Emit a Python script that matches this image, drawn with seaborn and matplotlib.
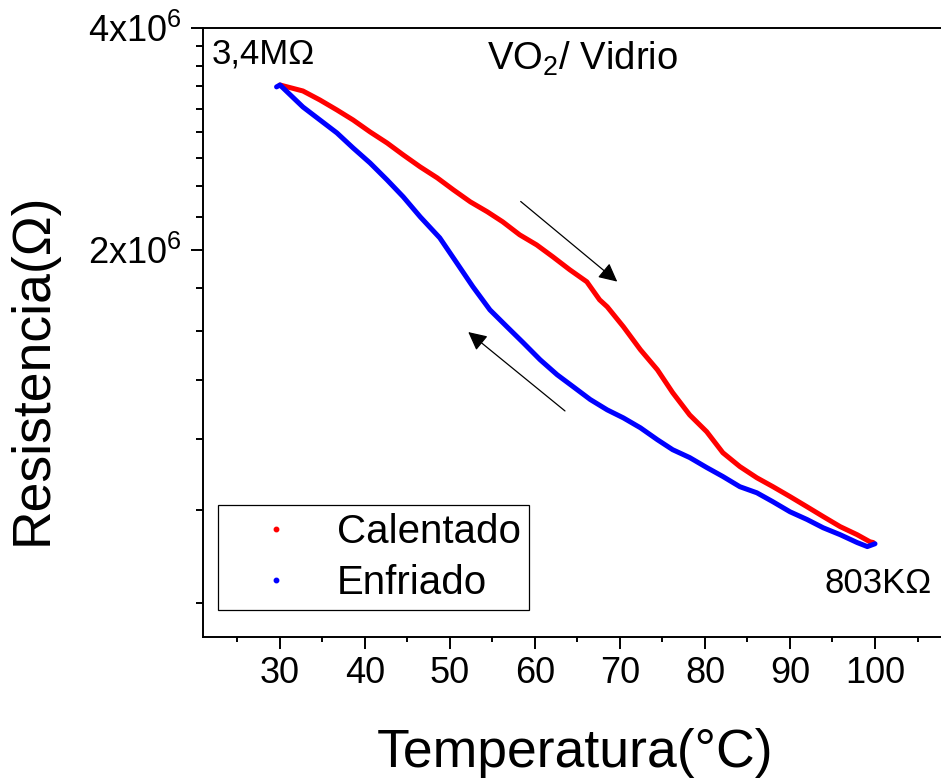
import numpy as np
import pandas as pd
import matplotlib
matplotlib.use("Agg")
import matplotlib.pyplot as plt
from matplotlib.lines import Line2D
from matplotlib.ticker import FixedLocator, FuncFormatter, NullFormatter
import seaborn as sns

# ---- data ----
temp_calentado = [30.0, 32.7, 34.7, 36.7, 38.6, 40.6, 42.6, 44.5, 46.5, 48.5, 50.4, 52.4,
                  54.4, 56.2, 58.2, 60.2, 62.1, 64.1, 66.1, 67.6, 68.5, 70.4, 72.4, 74.4,
                  76.2, 78.2, 80.2, 82.1, 84.1, 86.1, 88.0, 90.0, 92.0, 93.9, 95.9, 97.9,
                  99.4, 99.8]
res_calentado = [3.349, 3.287, 3.196, 3.098, 3.003, 2.893, 2.795, 2.693, 2.594, 2.507, 2.415,
                 2.326, 2.255, 2.186, 2.099, 2.034, 1.960, 1.882, 1.813, 1.714, 1.677, 1.576,
                 1.467, 1.378, 1.283, 1.197, 1.136, 1.064, 1.019, 0.984, 0.957, 0.928, 0.899,
                 0.872, 0.845, 0.824, 0.806, 0.804]

temp_enfriado = [100.0, 99.1, 97.9, 95.9, 93.9, 92.0, 90.0, 88.0, 86.1, 84.1, 82.1, 80.2,
                 78.2, 76.2, 74.4, 72.4, 70.4, 68.5, 66.5, 64.5, 62.6, 60.6, 58.6, 56.7,
                 54.7, 52.7, 50.8, 48.8, 46.5, 44.5, 42.6, 40.6, 38.6, 36.7, 34.7, 32.7,
                 30.0, 29.6]
res_enfriado = [0.801, 0.794, 0.804, 0.824, 0.842, 0.864, 0.885, 0.913, 0.939, 0.957, 0.988,
                1.016, 1.048, 1.074, 1.108, 1.150, 1.186, 1.216, 1.256, 1.307, 1.357, 1.422,
                1.500, 1.576, 1.661, 1.785, 1.923, 2.079, 2.220, 2.363, 2.491, 2.626, 2.752,
                2.884, 3.003, 3.127, 3.349, 3.329]

series_names = ["Calentado", "Enfriado"]
series_colors = ["#ff0000", "#0000ff"]
x_major_ticks = [30, 40, 50, 60, 70, 80, 90, 100]
y_major_ticks = [2e6, 4e6]
y_major_labels = ["2x10$^{6}$", "4x10$^{6}$"]

# ---- build table ----
df = pd.concat([
    pd.DataFrame({"T": temp_calentado, "R": np.array(res_calentado) * 1e6,
                  "Serie": series_names[0]}),
    pd.DataFrame({"T": temp_enfriado, "R": np.array(res_enfriado) * 1e6,
                  "Serie": series_names[1]}),
], ignore_index=True)

sns.set_style("ticks")
plt.rcParams["font.family"] = ["Liberation Sans", "DejaVu Sans"]
plt.rcParams["mathtext.fontset"] = "custom"
plt.rcParams["mathtext.rm"] = "Liberation Sans"
plt.rcParams["mathtext.it"] = "Liberation Sans:italic"
plt.rcParams["mathtext.bf"] = "Liberation Sans:bold"
plt.rcParams["mathtext.default"] = "regular"
for k in ["text.color", "axes.labelcolor", "xtick.color", "ytick.color", "axes.edgecolor"]:
    plt.rcParams[k] = "black"

fig = plt.figure(figsize=(9.41, 7.78), dpi=100)
ax = fig.add_axes([0.2162, 0.1806, 0.804, 0.7834])

palette = dict(zip(series_names, series_colors))
sns.lineplot(data=df, x="T", y="R", hue="Serie", palette=palette, sort=False,
             estimator=None, linewidth=3.6, legend=False, ax=ax)

ax.set_yscale("log")
ax.set_xlim(21, 110)
ax.set_ylim(5.98e5, 4e6)

# ticks
ax.xaxis.set_major_locator(FixedLocator(x_major_ticks))
ax.xaxis.set_minor_locator(FixedLocator([25, 35, 45, 55, 65, 75, 85, 95, 105]))
ax.yaxis.set_major_locator(FixedLocator(y_major_ticks))
ax.yaxis.set_major_formatter(FuncFormatter(lambda v, p: dict(zip(y_major_ticks, y_major_labels)).get(v, "")))
ax.yaxis.set_minor_locator(FixedLocator([2e6 * k / 9 for k in list(range(3, 9)) + list(range(10, 18))]))
ax.yaxis.set_minor_formatter(NullFormatter())

ax.tick_params(axis="both", which="major", direction="out", width=1.4, labelsize=26,
               colors="black")
ax.tick_params(axis="x", which="major", length=8.6, pad=4.5)
ax.tick_params(axis="y", which="major", length=8.6, pad=7)
ax.tick_params(axis="x", which="minor", length=3.8, width=1.4, colors="black")
ax.tick_params(axis="y", which="minor", length=5.0, width=1.4, colors="black")

for s in ["left", "bottom", "top"]:
    ax.spines[s].set_linewidth(1.4)
    ax.spines[s].set_color("black")
ax.spines["right"].set_visible(False)

# axis labels
ax.set_xlabel("Temperatura(°C)", fontsize=38.5, va="baseline", color="black")
ax.xaxis.set_label_coords(0.4918, -0.2125)
ax.set_ylabel("Resistencia(Ω)", fontsize=38.5, va="baseline", color="black")
ax.yaxis.set_label_coords(-0.207, 0.4405)

# annotations
fig.text(212 / 941, 1 - 64 / 778, "3,4MΩ", fontsize=25, ha="left", va="baseline", color="black")
fig.text(487 / 941, 1 - 69.3 / 778, "VO$_{2}$/ Vidrio", fontsize=27.5, ha="left", va="baseline",
         color="black")
fig.text(825 / 941, 1 - 593 / 778, "803KΩ", fontsize=25, ha="left", va="baseline", color="black")

arrow_kw = dict(arrowstyle="-|>", color="black", lw=0.9, mutation_scale=28,
                shrinkA=0, shrinkB=0)
ax.annotate("", xy=(69.68, 1.814e6), xytext=(58.32, 2.329e6), arrowprops=arrow_kw)
ax.annotate("", xy=(52.15, 1.550e6), xytext=(63.53, 1.212e6), arrowprops=arrow_kw)

# legend
handles = [Line2D([], [], marker="o", linestyle="none", markersize=3.2,
                  markerfacecolor=c, markeredgecolor=c) for c in series_colors]
leg = fig.legend(handles, series_names, loc="lower left",
                 bbox_to_anchor=(218 / 941, 1 - 610 / 778), bbox_transform=fig.transFigure,
                 fontsize=29, frameon=True, fancybox=False, borderpad=0.2,
                 handlelength=2.47, handletextpad=0.28, labelspacing=0.33,
                 borderaxespad=0)
for t in leg.get_texts():
    t.set_color("black")
leg.get_frame().set_edgecolor("black")
leg.get_frame().set_linewidth(0.9)
leg.get_frame().set_alpha(1)

fig.savefig("out.png", dpi=100)
